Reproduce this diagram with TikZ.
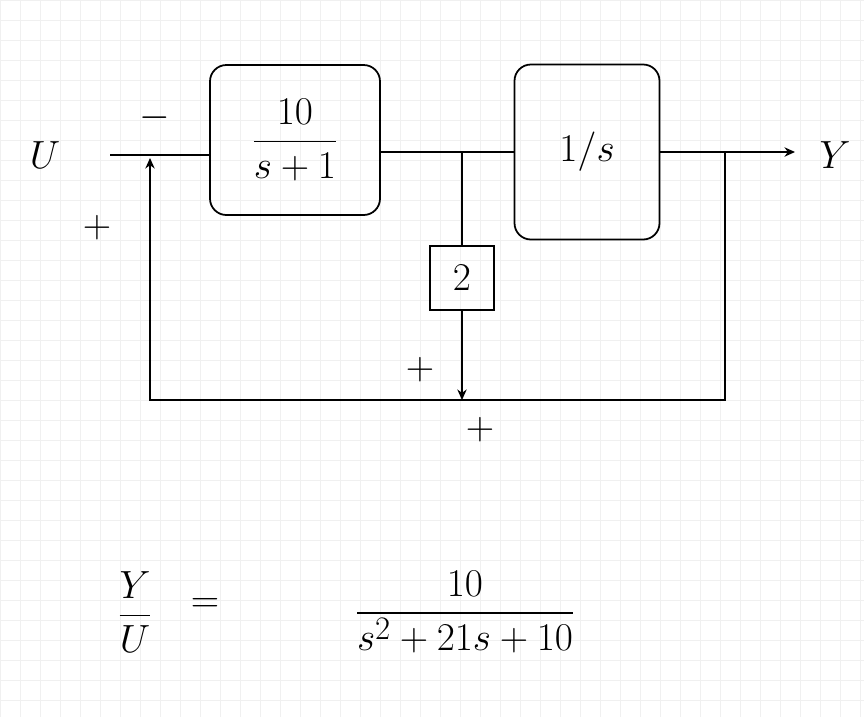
\documentclass[tikz,border=0pt]{standalone}
\usepackage{amsmath}
\usepackage{graphicx}
\usetikzlibrary{positioning,arrows.meta}

\newcommand{\hw}[1]{\scalebox{1.35}{\Huge #1}}

\tikzset{
  blk/.style={draw,line width=1.5pt,rounded corners=14pt,inner sep=0pt},
  wire/.style={line width=1.5pt,>={Stealth[length=9pt,width=8pt]}}
}

\begin{document}
\begin{tikzpicture}[x=0.03cm,y=-0.03cm]
  \useasboundingbox (0,0) rectangle (864,717);
  \draw[gray!12,step=0.6cm] (0,0) grid (864,717);
  % blocks
  \node[blk,minimum width=5.1cm,minimum height=4.5cm] (g1) at (295,140) {};
  \node at (g1) {\hw{$\dfrac{10}{s+1}$}};
  \node[blk,minimum width=4.35cm,minimum height=5.25cm] (g2) at (587,152) {};
  \node at (g2) {\hw{$1/s$}};
  \node[draw,line width=1.5pt,minimum width=1.9cm,minimum height=1.9cm] (k) at (462,278) {\hw{$2$}};
  % points
  \coordinate (u) at (110,155);
  \coordinate (sum) at (150,158);
  \coordinate (br) at (462,152);
  \coordinate (tap) at (725,152);
  \coordinate (out) at (795,152);
  \coordinate (bl) at (150,400);
  \coordinate (bm) at (462,400);
  \coordinate (br2) at (725,400);
  % labels
  \node (ul) at (45,155) {\hw{$U$}};
  \node (yl) at (835,155) {\hw{$Y$}};
  \node at (155,118) {\hw{$-$}};
  \node at (97,228) {\hw{$+$}};
  \node at (420,370) {\hw{$+$}};
  \node at (480,430) {\hw{$+$}};
  % wires
  \draw[wire] (u) -- (g1.west |- u);
  \draw[wire] (g1.east |- br) -- (g2.west |- br);
  \draw[wire,->] (g2.east |- tap) -- (out);
  \draw[wire] (br) -- (k.north);
  \draw[wire,->] (k.south) -- (bm);
  \draw[wire,->] (tap) -- (br2) -- (bl) -- (sum);
  % result
  \node (tf) at (135,612) {\hw{$\dfrac{Y}{U}$}};
  \node (eq) at (205,605) {\hw{$=$}};
  \node (rhs) at (465,612) {\hw{$\dfrac{\quad 10\quad}{s^2+21s+10}$}};
\end{tikzpicture}
\end{document}
